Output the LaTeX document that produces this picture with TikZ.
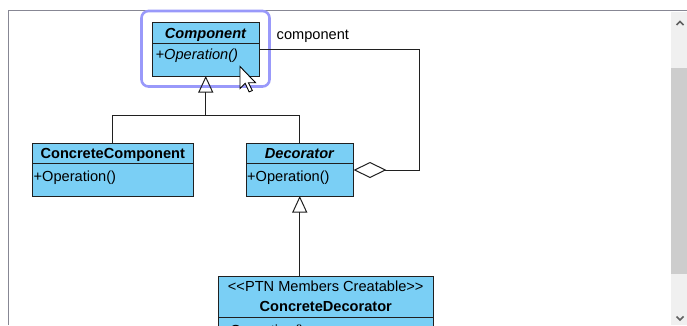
\documentclass[tikz,border=0pt]{standalone}
\usepackage{fontspec}
\setmainfont{Liberation Sans}
\usetikzlibrary{arrows.meta,calc}
\newcommand\umlfont{\fontsize{14.6pt}{20pt}\selectfont}
\definecolor{classfill}{RGB}{122,207,245}
\definecolor{classline}{RGB}{32,32,32}
\definecolor{selcol}{RGB}{153,153,250}
\definecolor{framecol}{RGB}{135,135,148}
\definecolor{trackcol}{RGB}{240,240,240}
\definecolor{thumbcol}{RGB}{205,205,205}
\definecolor{chevcol}{RGB}{96,96,96}
\tikzset{
  classbox/.style={draw=classline, fill=classfill, line width=1pt, inner sep=0pt, outer sep=0pt, anchor=north west, font=\umlfont},
  headbox/.style={classbox, text height=10.5pt, text depth=0pt},
  optext/.style={anchor=base west, inner sep=0pt, font=\umlfont},
  conn/.style={draw=classline, line width=1pt},
  inherit/.style={conn, -{Triangle[open, length=16.5pt, width=15pt, line width=1pt]}},
  aggr/.style={conn, -{Diamond[open, length=33pt, width=16pt, line width=1pt]}},
}
\begin{document}
\begin{tikzpicture}[x=1pt,y=-1pt]
\useasboundingbox (0,0) rectangle (687,325);
\clip (0,0) rectangle (687,325);
\fill[white] (0,0) rectangle (687,325);

% window frame and vertical scrollbar
\fill[trackcol] (671,11.5) rectangle (687,325);
\fill[thumbcol] (671,68) rectangle (687,274);
\draw[chevcol, line width=1.5pt] (676.5,25) -- (680,21.5) -- (683.5,25);
\draw[chevcol, line width=1.5pt] (676.5,316.5) -- (680,320) -- (683.5,316.5);
\draw[framecol, line width=1.3pt] (8.5,325) -- (8.5,10.5) -- (687,10.5);

% classes
\node[headbox, minimum width=106.5pt, minimum height=20.5pt] (compH) at (152.5,22.5) {\textbf{\textit{Component}}};
\node[classbox, minimum width=106.5pt, minimum height=33pt] (compB) at (compH.south west) {};
\node[optext] (compOp) at ($(compB.north west)+(3,16.5)$) {\textit{+Operation()}};

\node[headbox, minimum width=160.5pt, minimum height=20.5pt] (ccH) at (32.5,143) {\textbf{ConcreteComponent}};
\node[classbox, minimum width=160.5pt, minimum height=32.5pt] (ccB) at (ccH.south west) {};
\node[optext] (ccOp) at ($(ccB.north west)+(1,17.5)$) {+Operation()};

\node[headbox, minimum width=107.5pt, minimum height=20.5pt] (decH) at (246,143) {\textbf{\textit{Decorator}}};
\node[classbox, minimum width=107.5pt, minimum height=32.5pt] (decB) at (decH.south west) {};
\node[optext] (decOp) at ($(decB.north west)+(1,17.5)$) {+Operation()};

\node[classbox, minimum width=214.5pt, minimum height=41pt, align=center] (cdH) at (218.5,276)
  {<\kern0pt<PTN Members Creatable>\kern0pt>\\\textbf{ConcreteDecorator}};
\node[classbox, minimum width=214.5pt, minimum height=40pt] (cdB) at (cdH.south west) {};
\node[optext] (cdOp) at ($(cdB.north west)+(3,18)$) {+Operation()};

% selection highlight around Component
\draw[selcol, line width=2.6pt, rounded corners=7pt] ($(compH.north west)+(-11,-11.5)$) rectangle ($(compB.south east)+(10.5,10.5)$);

% generalization tree
\coordinate (j) at (compB.south |- 0,115.5);
\draw[conn] (ccH.north) |- (j);
\draw[conn] (decH.north) |- (j);
\draw[inherit] (j) -- (compB.south);
\draw[inherit] (decB.south |- cdH.north) -- (decB.south);

% aggregation from Decorator to Component
\coordinate (k1) at (419.5,49.5);
\coordinate (k2) at (419.5,170);
\draw[aggr] (k1 -| compB.east) -- (k1) -- (k2) -- (k2 -| decB.east);
\node[anchor=base west, inner sep=0pt, font=\umlfont] (role) at (276.5,39.5) {component};

% mouse pointer
\draw[black, fill=white, line width=0.9pt, line join=miter, shift={(240,66.5)}, scale=1.3]
  (0,0) -- (0,17) -- (4,13) -- (7,19.5) -- (9.5,18.5) -- (6.5,12.5) -- (12,12.5) -- cycle;
\end{tikzpicture}
\end{document}
